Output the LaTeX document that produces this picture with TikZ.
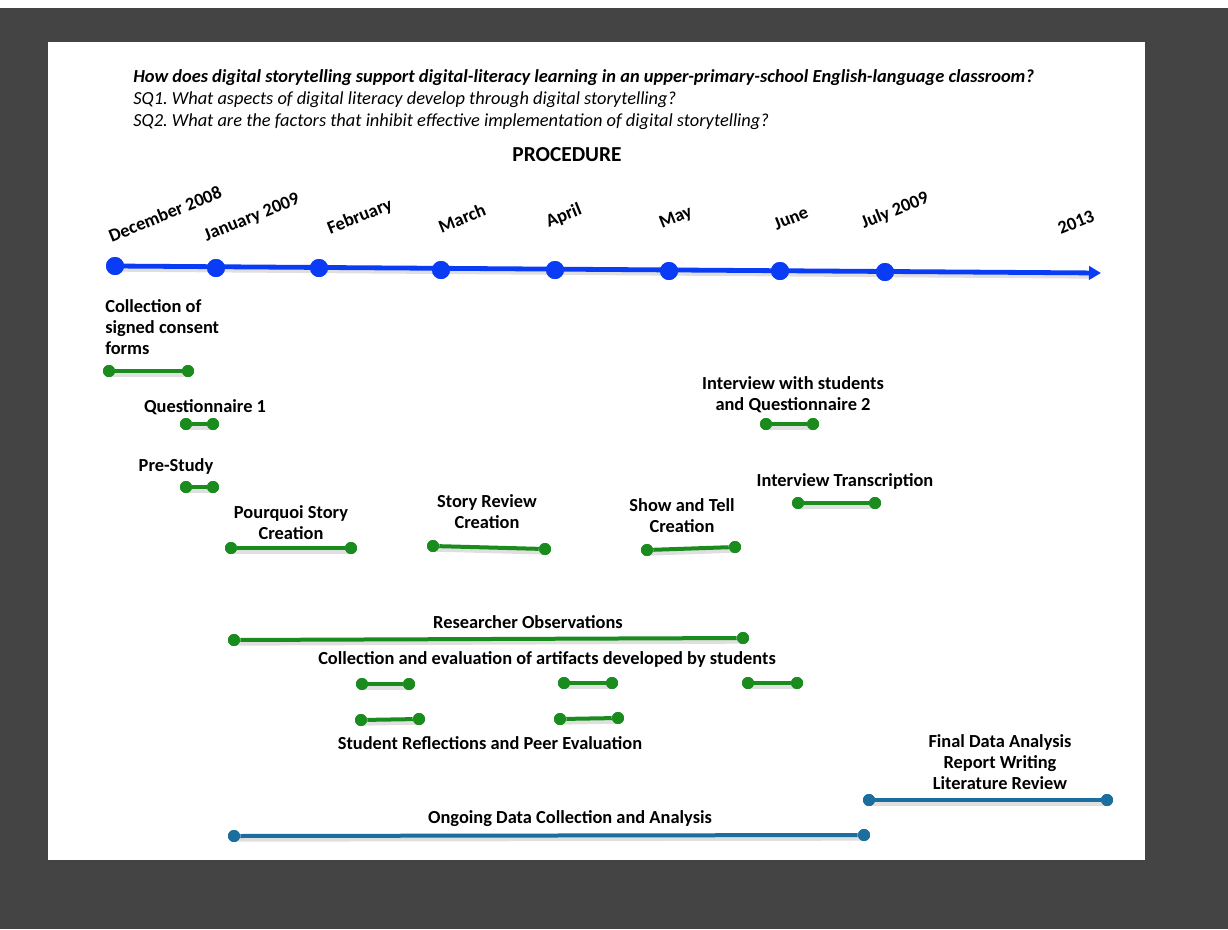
\documentclass[tikz,border=0pt]{standalone}
\usepackage{fontspec}
\setmainfont{Carlito}
\usetikzlibrary{arrows.meta}
\frenchspacing
\definecolor{bgdark}{HTML}{444444}
\definecolor{tlblue}{HTML}{0A3CF5}
\definecolor{mgreen}{HTML}{1A8C1E}
\definecolor{sblue}{HTML}{1B6E9E}
\tikzset{
  gdot/.style={circle, fill=mgreen, inner sep=0pt, minimum size=9pt},
  bdot/.style={circle, fill=sblue, inner sep=0pt, minimum size=9pt},
  tdot/.style={circle, fill=tlblue, inner sep=0pt, minimum size=13.5pt},
  gbar/.style={draw=mgreen, line width=3pt},
  bbar/.style={draw=sblue, line width=3pt},
  shad/.style={draw=black!35, opacity=0.35, line width=4pt, line cap=round},
  lbl/.style={font=\bfseries\fontsize{13.8}{15.75}\selectfont, align=center, inner sep=0pt},
  mon/.style={font=\bfseries\fontsize{13.8}{15}\selectfont, rotate=22, inner sep=0pt},
  qline/.style={font=\itshape\fontsize{13.8}{15}\selectfont, anchor=west, inner sep=0pt},
}
\newcommand{\gseg}[4]{%
  \draw[shad] ($(#1)+(1.5,3)$) -- ($(#2)+(1.5,3)$);
}
\usetikzlibrary{calc}
\begin{document}
\begin{tikzpicture}[x=0.75pt, y=-0.75pt]
\useasboundingbox (0,0) rectangle (1228,929);
\fill[bgdark] (0,8) rectangle (1228,929);
\fill[white] (48,42) rectangle (1145,860);

% questions
\node[qline, font=\bfseries\itshape\fontsize{13.8}{15}\selectfont] (q0) at (133,78) {How does digital storytelling support digital-literacy learning in an upper-primary-school English-language classroom?};
\node[qline] (q1) at (133,100) {SQ1. What aspects of digital literacy develop through digital storytelling?};
\node[qline] (q2) at (133,122) {SQ2. What are the factors that inhibit effective implementation of digital storytelling?};
\node[lbl, font=\bfseries\fontsize{16}{18}\selectfont] (proc) at (567,155) {PROCEDURE};

% timeline
\node[tdot] (tdec) at (115,266) {};
\node[tdot] (tjan) at (216,268) {};
\node[tdot] (tfeb) at (319,268) {};
\node[tdot] (tmar) at (441,270) {};
\node[tdot] (tapr) at (555,270) {};
\node[tdot] (tmay) at (669,271) {};
\node[tdot] (tjun) at (780,271) {};
\node[tdot] (tjul) at (885,272) {};
\coordinate (tend) at (1101,273);
\draw[draw=black!35, opacity=0.35, line width=4pt] ($(tdec.center)+(1.5,3)$) -- ($(tend)+(-8,3)$);
\draw[tlblue, line width=3.6pt, -{Triangle[length=9pt,width=10pt]}] (tdec.center) -- (tend);
\foreach \n in {tdec,tjan,tfeb,tmar,tapr,tmay,tjun,tjul} \node[tdot] at (\n) {};

\node[mon] (mdec) at (165,214) {December 2008};
\node[mon] (mjan) at (252,218) {January 2009};
\node[mon] (mfeb) at (360,217) {February};
\node[mon] (mmar) at (462,218) {March};
\node[mon] (mapr) at (564,216) {April};
\node[mon] (mmay) at (676,218) {May};
\node[mon] (mjun) at (791,218) {June};
\node[mon] (mjul) at (895,211) {July 2009};
\node[mon] (m13) at (1076,222) {2013};

% green activities
\node[lbl, align=left, anchor=west] (consent) at (105,327) {Collection of\\signed consent\\forms};
\node[gdot] (c1) at (109,371) {}; \node[gdot] (c2) at (188,371) {};
\gseg{c1}{c2}{}{}\draw[gbar] (c1) -- (c2);

\node[lbl] (quest1) at (205,407) {Questionnaire 1};
\node[gdot] (qa) at (186,424) {}; \node[gdot] (qb) at (213,424) {};
\gseg{qa}{qb}{}{}\draw[gbar] (qa) -- (qb);

\node[lbl] (pre) at (176,466) {Pre-Study};
\node[gdot] (pa) at (186,487) {}; \node[gdot] (pb) at (213,487) {};
\gseg{pa}{pb}{}{}\draw[gbar] (pa) -- (pb);

\node[lbl] (pour) at (291,523) {Pourquoi Story\\Creation};
\node[gdot] (pu1) at (231,548) {}; \node[gdot] (pu2) at (351,548) {};
\gseg{pu1}{pu2}{}{}\draw[gbar] (pu1) -- (pu2);

\node[lbl] (srev) at (487,512) {Story Review\\Creation};
\node[gdot] (sr1) at (433,546) {}; \node[gdot] (sr2) at (545,549) {};
\gseg{sr1}{sr2}{}{}\draw[gbar] (sr1) -- (sr2);

\node[lbl] (show) at (682,516) {Show and Tell\\Creation};
\node[gdot] (st1) at (647,550) {}; \node[gdot] (st2) at (735,547) {};
\gseg{st1}{st2}{}{}\draw[gbar] (st1) -- (st2);

\node[lbl] (intv) at (793,395) {Interview with students\\and Questionnaire 2};
\node[gdot] (iv1) at (766,424) {}; \node[gdot] (iv2) at (813,424) {};
\gseg{iv1}{iv2}{}{}\draw[gbar] (iv1) -- (iv2);

\node[lbl] (itr) at (845,481) {Interview Transcription};
\node[gdot] (it1) at (798,503) {}; \node[gdot] (it2) at (875,503) {};
\gseg{it1}{it2}{}{}\draw[gbar] (it1) -- (it2);

\node[lbl] (robs) at (528,622) {Researcher Observations};
\node[gdot] (ro1) at (234,640) {}; \node[gdot] (ro2) at (743,638) {};
\gseg{ro1}{ro2}{}{}\draw[gbar] (ro1) -- (ro2);

\node[lbl] (arti) at (547,659) {Collection and evaluation of artifacts developed by students};
\node[gdot] (a1) at (362,684) {}; \node[gdot] (a2) at (409,684) {};
\gseg{a1}{a2}{}{}\draw[gbar] (a1) -- (a2);
\node[gdot] (a3) at (564,683) {}; \node[gdot] (a4) at (612,683) {};
\gseg{a3}{a4}{}{}\draw[gbar] (a3) -- (a4);
\node[gdot] (a5) at (748,683) {}; \node[gdot] (a6) at (797,683) {};
\gseg{a5}{a6}{}{}\draw[gbar] (a5) -- (a6);

\node[gdot] (r1) at (361,720) {}; \node[gdot] (r2) at (419,719) {};
\gseg{r1}{r2}{}{}\draw[gbar] (r1) -- (r2);
\node[gdot] (r3) at (560,719) {}; \node[gdot] (r4) at (618,718) {};
\gseg{r3}{r4}{}{}\draw[gbar] (r3) -- (r4);
\node[lbl] (refl) at (490,743) {Student Reflections and Peer Evaluation};

% blue phases
\node[lbl] (ongo) at (570,819) {Ongoing Data Collection and Analysis};
\node[bdot] (o1) at (234,836) {}; \node[bdot] (o2) at (864,835) {};
\gseg{o1}{o2}{}{}\draw[bbar] (o1) -- (o2);

\node[lbl] (final) at (1000,762) {Final Data Analysis\\Report Writing\\Literature Review};
\node[bdot] (f1) at (869,800) {}; \node[bdot] (f2) at (1107,800) {};
\gseg{f1}{f2}{}{}\draw[bbar] (f1) -- (f2);
\foreach \n in {c1,c2,qa,qb,pa,pb,pu1,pu2,sr1,sr2,st1,st2,iv1,iv2,it1,it2,ro1,ro2,a1,a2,a3,a4,a5,a6,r1,r2,r3,r4} \node[gdot] at (\n) {};
\foreach \n in {o1,o2,f1,f2} \node[bdot] at (\n) {};
\end{tikzpicture}
\end{document}
